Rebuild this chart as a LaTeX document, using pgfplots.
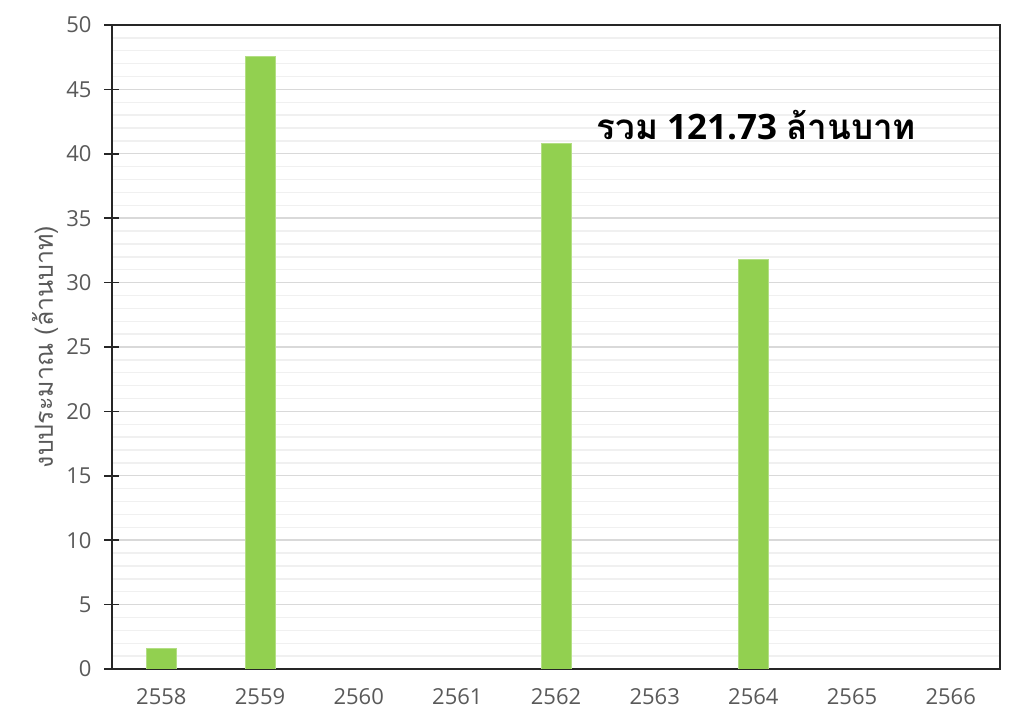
\documentclass[border=0pt]{standalone}
\usepackage{fontspec}
\setmainfont{Open Sans}
\newfontfamily\thaifont[Script=Thai]{Loma}
\usepackage{pgfplots}
\pgfplotsset{compat=1.18}
\definecolor{bargreen}{HTML}{92D050}
\definecolor{majgrid}{HTML}{D9D9D9}
\definecolor{mingrid}{HTML}{F0F0F0}
\definecolor{ticktext}{HTML}{595959}
\begin{document}
\begin{tikzpicture}
\path[use as bounding box] (-56pt,-28.5pt) rectangle (456pt,334.5pt);
\begin{axis}[
  at={(0,0)}, anchor=south west,
  scale only axis,
  width=444pt, height=322pt,
  xmin=-0.5, xmax=8.5,
  ymin=0, ymax=50,
  xtick={0,1,2,3,4,5,6,7,8},
  xticklabels={2558,2559,2560,2561,2562,2563,2564,2565,2566},
  ytick={0,5,...,50},
  ytick pos=left,
  minor y tick num=4,
  ymajorgrids, yminorgrids,
  major grid style={draw=majgrid, line width=0.7pt},
  minor grid style={draw=mingrid, line width=0.7pt},
  axis line style={draw=black!85, line width=0.8pt},
  xtick style={draw=none},
  ytick style={draw=black!85, line width=0.8pt},
  minor tick length=0pt,
  major tick length=7.5pt,
  tick align=center,
  tick label style={font=\fontsize{11}{13}\selectfont, text=ticktext},
  /pgf/number format/assume math mode=true,
  xticklabel style={text height=8.5pt, text depth=0pt, yshift=2pt},
  yticklabel style={xshift=-3pt},
  ylabel={\thaifont\fontsize{12.5}{14}\selectfont งบประมาณ (ล้านบาท)},
  ylabel style={at={(axis description cs:-0.0755,0.5)}, anchor=center, text=ticktext},
  ybar, bar width=15pt,
]
\addplot[fill=bargreen, draw=bargreen!70!white, line width=0.4pt] coordinates {
  (0,1.6) (1,47.55) (4,40.8) (6,31.78)
};
\node[font=\fontsize{17.5}{20}\selectfont\bfseries, text=black] at (axis cs:6.03,42.2)
  {{\thaifont รวม} 121.73 {\thaifont ล้านบาท}};
\end{axis}
\end{tikzpicture}
\end{document}
